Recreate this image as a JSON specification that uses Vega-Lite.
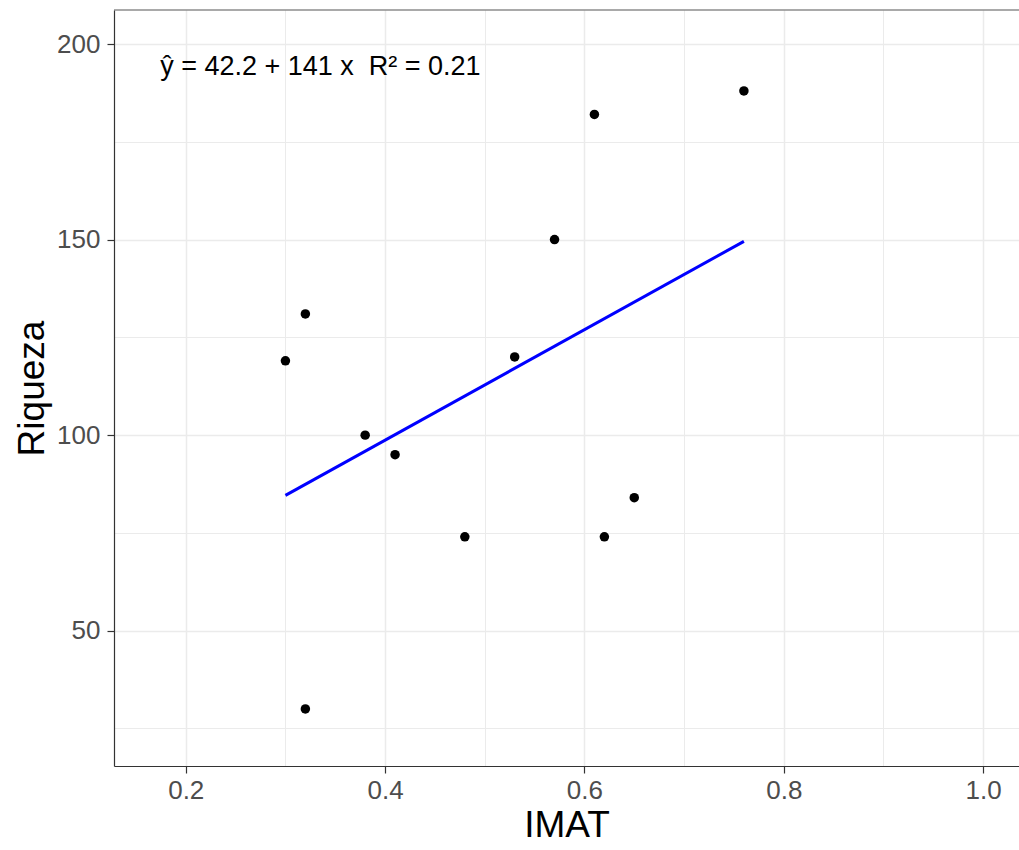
{
  "$schema": "https://vega.github.io/schema/vega-lite/v6.json",
  "autosize": {"type": "none"},
  "padding": {"left": 114, "top": 10, "right": 0, "bottom": 84},
  "width": 905,
  "height": 756,
  "background": "white",
  "config": {
    "font": "Liberation Sans",
    "view": {"stroke": null},
    "axis": {
      "labelFont": "Liberation Sans",
      "titleFont": "Liberation Sans",
      "labelFontSize": 26,
      "labelColor": "#4D4D4D",
      "titleFontSize": 37,
      "titleFontWeight": "normal",
      "titleColor": "#000000",
      "tickColor": "#333333",
      "tickSize": 7,
      "tickWidth": 1.2,
      "domainColor": "#333333",
      "domainWidth": 1.2,
      "gridColor": "#EBEBEB"
    }
  },
  "data": {
    "values": [
      {"IMAT": 0.30, "Riqueza": 119},
      {"IMAT": 0.32, "Riqueza": 131},
      {"IMAT": 0.32, "Riqueza": 30},
      {"IMAT": 0.38, "Riqueza": 100},
      {"IMAT": 0.41, "Riqueza": 95},
      {"IMAT": 0.48, "Riqueza": 74},
      {"IMAT": 0.53, "Riqueza": 120},
      {"IMAT": 0.57, "Riqueza": 150},
      {"IMAT": 0.61, "Riqueza": 182},
      {"IMAT": 0.62, "Riqueza": 74},
      {"IMAT": 0.65, "Riqueza": 84},
      {"IMAT": 0.76, "Riqueza": 188}
    ]
  },
  "layer": [
    {
      "mark": {"type": "point", "filled": true, "color": "#000000", "size": 90, "opacity": 1},
      "encoding": {
        "x": {
          "field": "IMAT", "type": "quantitative",
          "scale": {"domain": [0.128, 1.036], "nice": false, "zero": false},
          "axis": {
            "title": "IMAT",
            "values": [0.2, 0.3, 0.4, 0.5, 0.6, 0.7, 0.8, 0.9, 1.0],
            "labelExpr": "round(datum.value*10) % 2 == 0 ? format(datum.value, '.1f') : ''",
            "tickOpacity": {"condition": {"test": "round(datum.value*10) % 2 == 0", "value": 1}, "value": 0},
            "gridWidth": {"condition": {"test": "round(datum.value*10) % 2 == 0", "value": 1.5}, "value": 1},
            "labelPadding": 4,
            "titlePadding": 4,
            "grid": true,
            "labelFlush": false,
            "labelOverlap": false
          }
        },
        "y": {
          "field": "Riqueza", "type": "quantitative",
          "scale": {"domain": [15.4, 208.7], "nice": false, "zero": false},
          "axis": {
            "title": "Riqueza",
            "values": [25, 50, 75, 100, 125, 150, 175, 200],
            "labelExpr": "datum.value % 50 == 0 ? format(datum.value, 'd') : ''",
            "tickOpacity": {"condition": {"test": "datum.value % 50 == 0", "value": 1}, "value": 0},
            "gridWidth": {"condition": {"test": "datum.value % 50 == 0", "value": 1.5}, "value": 1},
            "labelPadding": 7,
            "titlePadding": 5,
            "grid": true,
            "labelOverlap": false
          }
        }
      }
    },
    {
      "transform": [{"regression": "Riqueza", "on": "IMAT"}],
      "mark": {"type": "line", "color": "#0000FF", "strokeWidth": 3},
      "encoding": {
        "x": {"field": "IMAT", "type": "quantitative"},
        "y": {"field": "Riqueza", "type": "quantitative"}
      }
    },
    {
      "data": {"values": [{"label": "ŷ = 42.2 + 141 x \u00a0R² = 0.21"}]},
      "mark": {"type": "text", "align": "left", "baseline": "alphabetic", "fontSize": 27, "color": "#000000", "font": "Liberation Sans"},
      "encoding": {
        "x": {"datum": 0.1743, "type": "quantitative"},
        "y": {"datum": 192.0, "type": "quantitative"},
        "text": {"field": "label"}
      }
    },
    {
      "mark": {"type": "rule", "color": "#555555", "strokeWidth": 1.2},
      "data": {"values": [{"top": 208.7}]},
      "encoding": {
        "y": {"field": "top", "type": "quantitative"}
      }
    }
  ]
}
